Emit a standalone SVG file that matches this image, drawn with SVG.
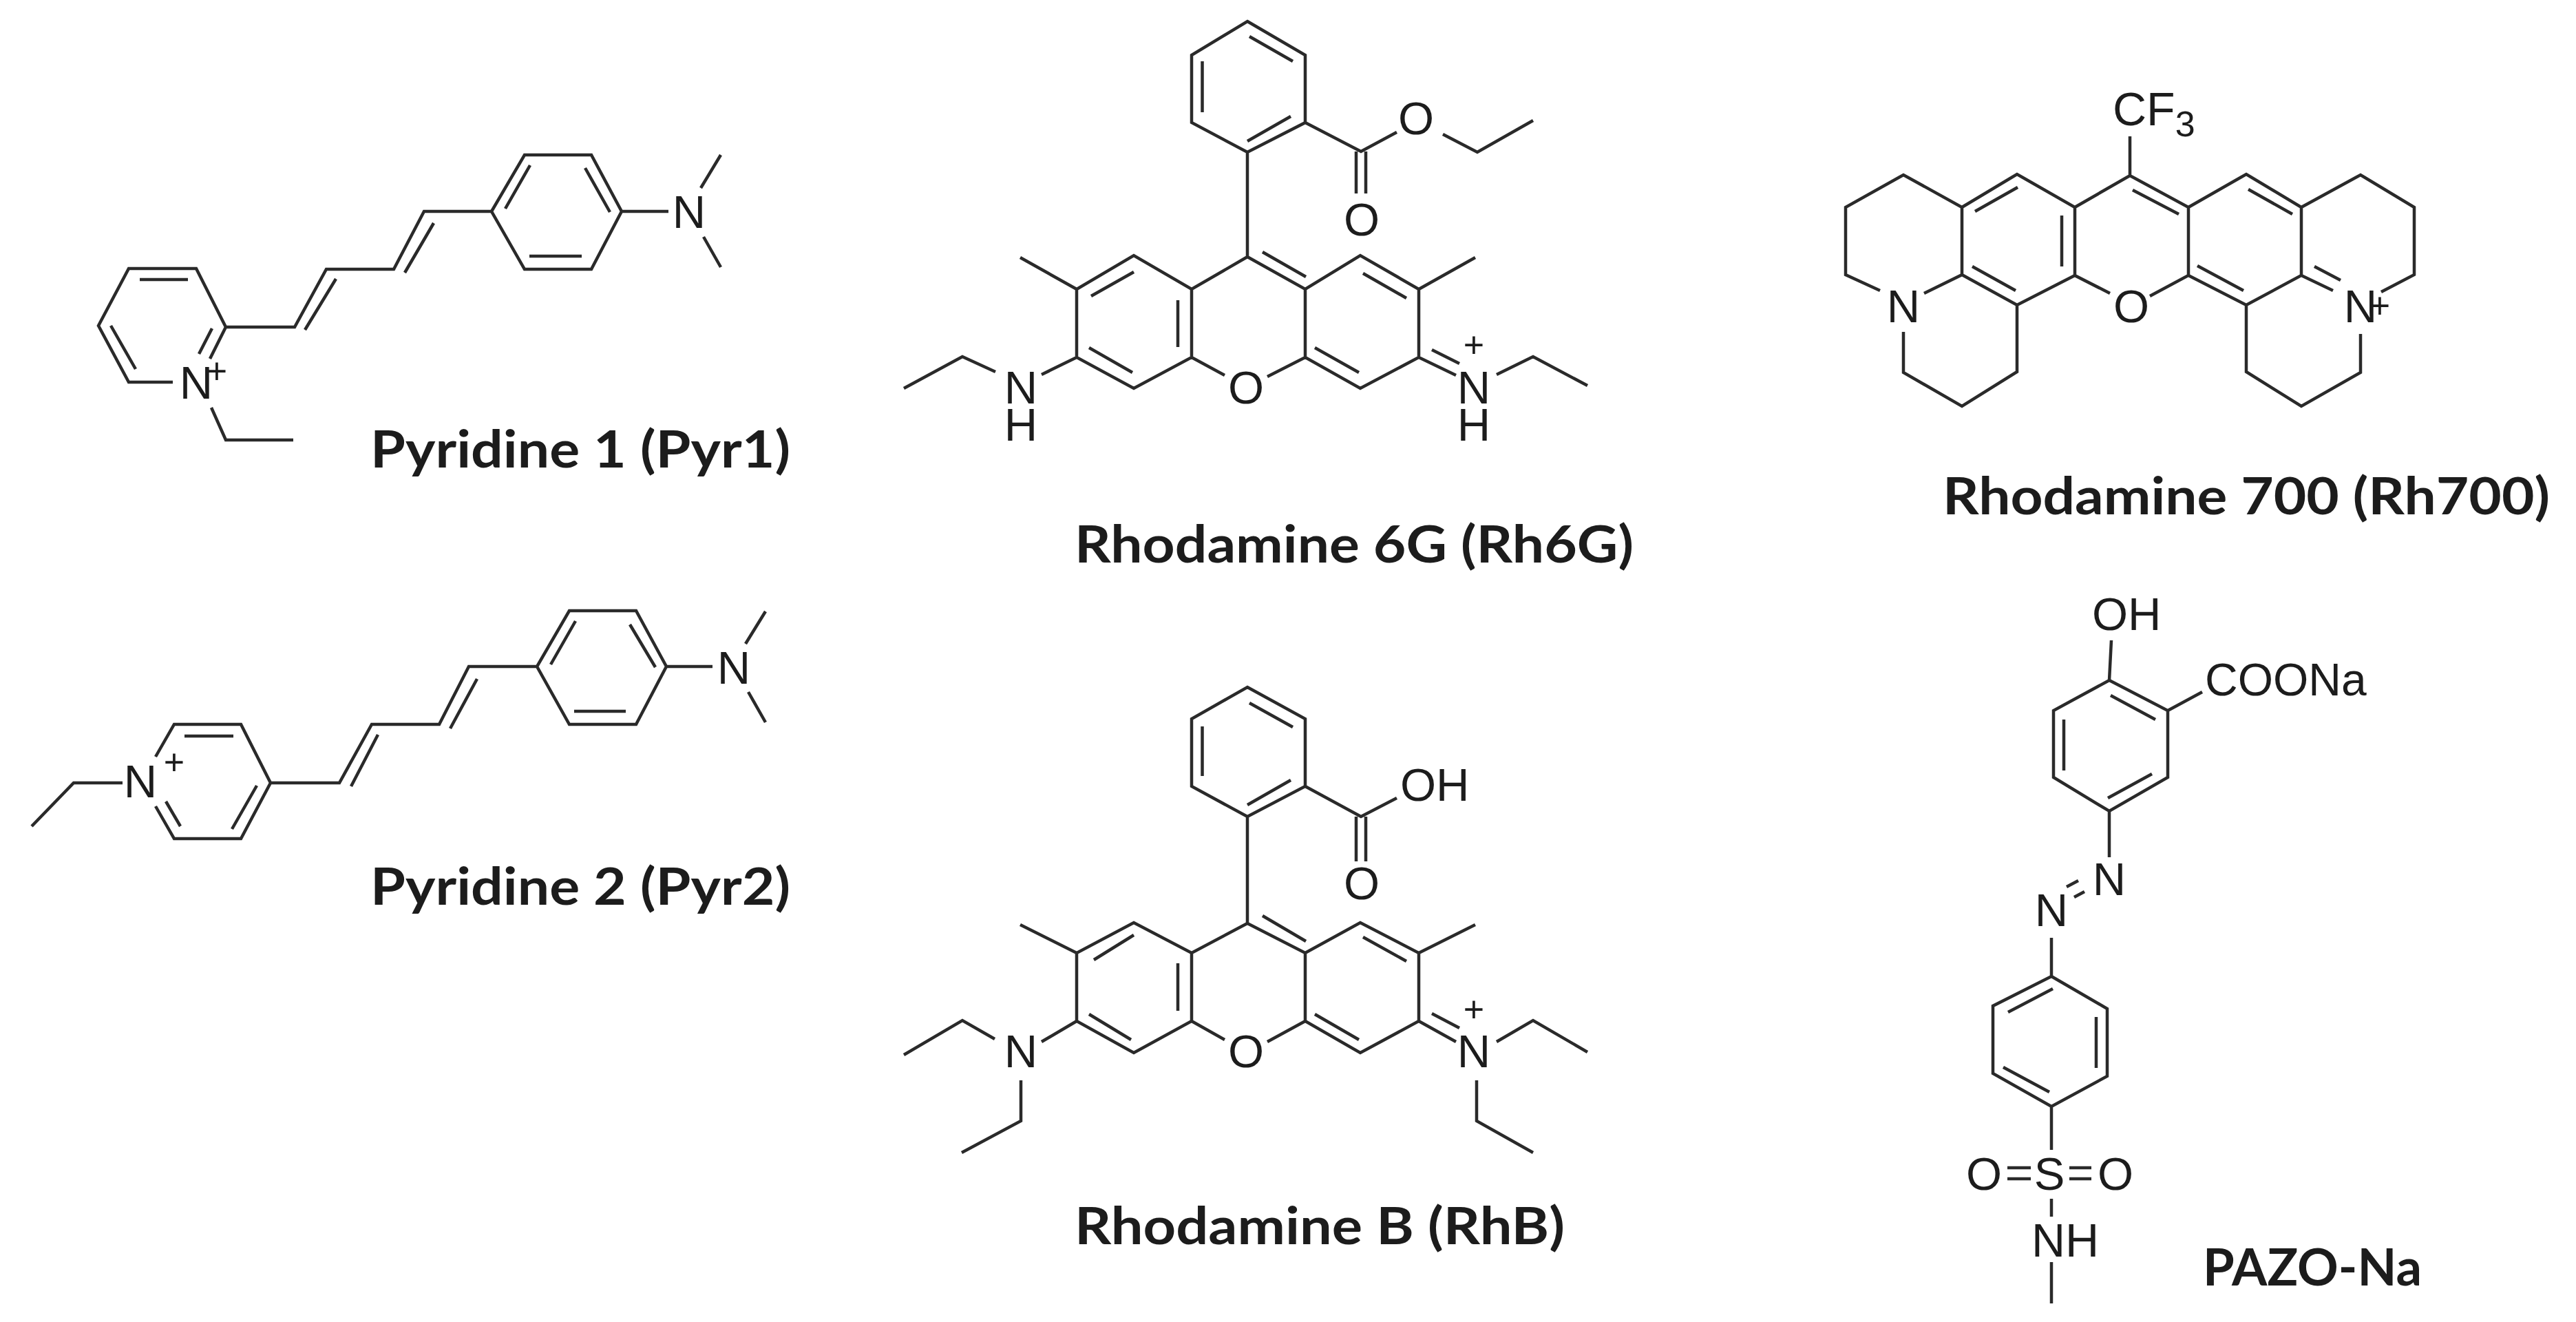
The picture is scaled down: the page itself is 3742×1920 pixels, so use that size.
<svg xmlns="http://www.w3.org/2000/svg" width="3742" height="1920" viewBox="0 0 3742 1920">
<style>
.b{fill:none;stroke:#2a2a2a;stroke-width:4.5;stroke-linejoin:miter;stroke-linecap:butt}
.a{font-family:"Liberation Sans",Arial,sans-serif;fill:#1c1c1c;font-size:67px;text-anchor:middle}
.s{text-anchor:start}
.p{font-size:52px}
.l{font-family:Lato,"Open Sans",sans-serif;font-weight:700;fill:#1c1c1c;font-size:75px}
</style>
<rect width="3742" height="1920" fill="#fff"/>
<g id="pyr1">
<path class="b" d="M762 225H859L903 307L859 391H762L714 307ZM714 307H616L572 391H474L428 475H328M630 324L588 396M488 405L443 479M770 240L734 303M850 244L886 308M769 372H845M903 307H971M1018 273L1047 225M1022 344L1047 388M251 555H187L143 473L187 390H285L328 475L305 521M203 406H273M161 473L197 536M308 477L289 514M307 592L328 639H426"/>
<text class="a" x="285" y="579">N</text>
<text class="a p" x="315" y="557">+</text>
<text class="a" x="1001" y="331">N</text>
<text class="l" x="538" y="679" textLength="610" lengthAdjust="spacingAndGlyphs">Pyridine 1 (Pyr1)</text>
</g>
<g id="pyr2">
<path class="b" d="M827 887H924L968 968L924 1052H827L780 968ZM780 968H681L638 1052H540L493 1137H393M693 986L654 1058M549 1067L510 1142M836 902L800 965M915 907L952 969M834 1033H909M968 968H1035M1083 935L1112 888M1087 1005L1112 1049M226 1099L253 1052H350L393 1137L350 1218H253L226 1171M268 1069H339M373 1141L337 1204M241 1164L262 1200M178 1137H107L46 1200"/>
<text class="a" x="204" y="1158">N</text>
<text class="a p" x="253" y="1125">+</text>
<text class="a" x="1066" y="993">N</text>
<text class="l" x="538" y="1314" textLength="610" lengthAdjust="spacingAndGlyphs">Pyridine 2 (Pyr2)</text>
</g>
<g id="rh6g">
<path class="b" d="M1812 31L1896 80V178L1812 221L1731 178V80ZM1815 53L1878 89M1746.5 89V163M1812 205L1875 169M1812 221V373M1896 178L1977 220L2029 192M2096 195L2146 221L2227 175M1970 220V281M1984 220V281M1812 373L1896 420L1976 371L2061 420V519L1976 564L1896 519V420M1812 373L1731 420L1647 371L1564 420V519L1647 564L1731 519V420M1731 519L1779 545M1896 519L1841 547M1834 366L1897 402M1980 397L2043 433M1910 505L1974 541M1647 395L1585 430M1711 436V504M1582 505L1645 541M1564 420L1482 374M2061 420L2143 374M1564 519L1513 544M1446 540L1398 518L1313 564M2061 519L2115 545M2080 508L2120 528M2174 544L2227 518L2306 560"/>
<text class="a" x="2057" y="195">O</text>
<text class="a" x="1978" y="342">O</text>
<text class="a" x="1810" y="586">O</text>
<text class="a" x="1483" y="586">N</text>
<text class="a" x="1483" y="640">H</text>
<text class="a" x="2141" y="586">N</text>
<text class="a" x="2141" y="640">H</text>
<text class="a p" x="2141" y="519">+</text>
<text class="l" x="1561" y="817" textLength="812" lengthAdjust="spacingAndGlyphs">Rhodamine 6G (Rh6G)</text>
</g>
<g id="rhb">
<path class="b" d="M1812 998L1896 1044V1142L1812 1186L1731 1142V1044ZM1815 1021L1878 1056M1746.5 1055V1127M1812 1169L1875 1133M1812 1186V1341M1896 1142L1977 1186L2029 1159M1970 1186V1251M1984 1186V1251M1812 1341L1896 1384L1976 1340L2061 1384V1483L1976 1529L1896 1483V1384M1812 1341L1731 1384L1647 1340L1564 1384V1483L1647 1529L1731 1483V1384M1731 1483L1779 1510M1896 1483L1841 1513M1834 1330L1897 1367M1980 1361L2043 1396M1910 1473L1974 1510M1647 1358L1589 1394M1711 1399V1468M1582 1473L1643 1510M1564 1384L1482 1343M2061 1384L2143 1343M1564 1483L1513 1513M1445 1509L1398 1482L1313 1532M1483 1569V1628L1397 1674M2061 1483L2115 1513M2080 1472L2120 1493M2174 1513L2227 1482L2306 1528M2145 1569V1628L2227 1674"/>
<text class="a s" x="2034" y="1163">OH</text>
<text class="a" x="1978" y="1306">O</text>
<text class="a" x="1810" y="1550">O</text>
<text class="a" x="1483" y="1550">N</text>
<text class="a" x="2141" y="1550">N</text>
<text class="a p" x="2141" y="1484">+</text>
<text class="l" x="1561" y="1807" textLength="712" lengthAdjust="spacingAndGlyphs">Rhodamine B (RhB)</text>
</g>
<g id="rh700">
<path class="b" d="M3094 198V255M2731 422L2681 399V301L2765 254L2850 301V399L2795 426M2850 301L2930 253L3014 301V400L3065 426M3014 301L3094 255L3179 301V400L3123 430M2850 399L2930 443L3014 400M2930 443V540L2850 590L2765 541V482M3179 301L3263 253L3343 301V400L3263 443L3179 400M3263 443V540L3343 590L3429 541V485M3343 301L3429 254L3507 301V399L3459 424M3343 400L3389 422M2869 307L2931 272M2995 313V387M3098 276L3165 311M3266 275L3330 311M2865 387L2928 422M3192 386L3259 422M3362 387L3400 407"/>
<text class="a s" x="3069" y="182" style="font-size:68px">CF<tspan font-size="52" dy="16">3</tspan></text>
<text class="a" x="2765" y="468">N</text>
<text class="a" x="3096" y="468">O</text>
<text class="a" x="3429" y="468">N</text>
<text class="a p" x="3457" y="462">+</text>
<text class="l" x="2822" y="747" textLength="882" lengthAdjust="spacingAndGlyphs">Rhodamine 700 (Rh700)</text>
</g>
<g id="pazo-na">
<path class="b" d="M3064 988L3149 1032V1129L3064 1178L2983 1129V1032ZM3066 1010L3131 1045M2998 1045V1119M3062 1159L3126 1124M3064 988L3067 930M3149 1032L3199 1005M3064 1178V1245M3002 1288L3019 1279M3013 1303L3028 1295M2980 1362V1418M2980 1418L3061 1465V1563L2980 1607L2895 1559V1461ZM2917 1470L2982 1436M3045 1477V1551M2910 1550L2977 1586M2980 1607V1670M2916 1696H2950M2916 1712H2950M3006 1696H3038M3006 1712H3038M2980 1741V1767M2980 1833V1893"/>
<text class="a s" x="3039" y="915">OH</text>
<text class="a s" x="3203" y="1010" style="font-size:66px">COONa</text>
<text class="a" x="3064" y="1300">N</text>
<text class="a" x="2980" y="1345">N</text>
<text class="a" x="2882" y="1728">O</text>
<text class="a" x="2977" y="1728">S</text>
<text class="a" x="3073" y="1728">O</text>
<text class="a s" x="2951" y="1825" style="font-size:68px">NH</text>
<text class="l" x="3200" y="1867" textLength="318" lengthAdjust="spacingAndGlyphs">PAZO-Na</text>
</g>
</svg>
